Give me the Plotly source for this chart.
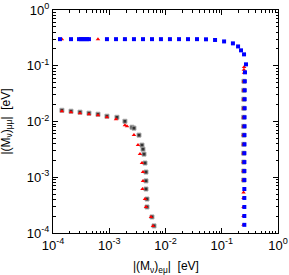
import plotly.graph_objects as go

# Upper curve (blue squares)
blue_x = [1.33e-4, 2.09e-4, 2.9e-4, 3.15e-4, 3.41e-4, 3.7e-4, 4.02e-4, 4.36e-4, 9.1e-4, 1.32e-3,
          1.9e-3, 2.75e-3, 3.98e-3, 5.75e-3, 8.3e-3, 1.2e-2, 1.74e-2, 2.51e-2, 3.63e-2, 5.25e-2,
          7.6e-2, 0.110, 0.158, 0.195, 0.22, 0.249, 0.27, 0.259,
          0.257, 0.256, 0.255, 0.255, 0.254, 0.254, 0.253, 0.253, 0.252, 0.252, 0.252, 0.252,
          0.252, 0.252, 0.252, 0.252, 0.252]
blue_y = [0.30, 0.30, 0.30, 0.30, 0.30, 0.30, 0.30, 0.30, 0.30, 0.30,
          0.30, 0.30, 0.30, 0.30, 0.30, 0.30, 0.30, 0.30, 0.30, 0.298,
          0.29, 0.273, 0.252, 0.222, 0.189, 0.16, 0.106, 0.0762,
          0.0526, 0.0363, 0.0251, 0.0173, 0.0119, 8.2e-3, 5.7e-3, 3.9e-3, 2.7e-3, 1.87e-3,
          1.29e-3, 8.9e-4, 6.15e-4, 4.25e-4, 2.93e-4, 2.02e-4, 1.4e-4]

# Upper curve (red triangles)
red_up_x = [1.44e-4, 3.2e-4, 3.4e-4, 6.3e-4, 1.9e-3, 0.25, 0.248, 0.249,
            0.248, 0.247, 0.246, 0.246, 0.245, 0.245, 0.244, 0.244, 0.244, 0.244, 0.244,
            0.244, 0.244, 0.244, 0.244, 0.244, 0.244]
red_up_y = [0.30, 0.30, 0.30, 0.30, 0.30, 0.095, 0.085, 0.075,
            0.0526, 0.0363, 0.0251, 0.0173, 0.0119, 8.2e-3, 5.7e-3, 3.9e-3, 2.7e-3, 1.87e-3,
            1.29e-3, 8.9e-4, 5.3e-4, 4.25e-4, 2.93e-4, 2.02e-4, 1.4e-4]

# Lower curve (red triangles)
red_lo_x = [1.44e-4, 2.09e-4, 3.02e-4, 4.36e-4, 6.31e-4, 9.1e-4, 1.32e-3, 1.9e-3, 2.07e-3,
            2.75e-3, 3.24e-3, 3.52e-3, 3.82e-3, 3.98e-3, 3.98e-3, 3.9e-3, 4.32e-3, 4.5e-3,
            5.52e-3, 6.0e-3]
red_lo_y = [0.0153, 0.0147, 0.0141, 0.0135, 0.0130, 0.0119, 0.0110, 8.6e-3, 8.2e-3,
            5.7e-3, 3.77e-3, 2.6e-3, 1.8e-3, 1.24e-3, 8.6e-4, 6.15e-4, 4.07e-4, 2.93e-4,
            1.94e-4, 1.34e-4]

# Grey squares (both curves)
grey_x = [1.44e-4, 2.09e-4, 3.02e-4, 4.36e-4, 6.31e-4, 9.1e-4, 1.37e-3, 1.9e-3, 2.54e-3,
          2.75e-3, 3.38e-3, 3.82e-3, 3.98e-3, 4.15e-3, 4.32e-3, 4.5e-3, 4.5e-3, 4.5e-3,
          4.69e-3, 4.69e-3, 5.75e-3, 6.25e-3,
          0.248, 0.247, 0.247, 0.246, 0.246, 0.246, 0.246, 0.246, 0.246, 0.246, 0.246, 0.246]
grey_y = [0.0159, 0.0153, 0.0147, 0.0141, 0.0135, 0.01245, 0.0119, 0.0101, 7.9e-3,
          7.6e-3, 5.7e-3, 3.77e-3, 3.19e-3, 2.6e-3, 1.8e-3, 1.24e-3, 8.6e-4, 6.15e-4,
          4.07e-4, 2.93e-4, 1.94e-4, 1.34e-4,
          0.0526, 0.0363, 0.0251, 0.0173, 0.0119, 8.2e-3, 5.7e-3, 3.9e-3, 2.7e-3, 1.87e-3,
          1.29e-3, 8.9e-4]

tick_vals = [1e-4, 1e-3, 1e-2, 1e-1, 1]
tick_text = ["10<sup>-4</sup>", "10<sup>-3</sup>", "10<sup>-2</sup>", "10<sup>-1</sup>", "10<sup>0</sup>"]
x_title = "|(M<sub>ν</sub>)<sub>eμ</sub>|  [eV]"
y_title = "|(M<sub>ν</sub>)<sub>μμ</sub>|  [eV]"

FONT = "Liberation Sans, Arial"

fig = go.Figure()
fig.add_trace(go.Scatter(x=grey_x, y=grey_y, mode="markers",
                         marker=dict(symbol="square", size=4, color="#333333",
                                     line=dict(color="#aaaaaa", width=1))))
fig.add_trace(go.Scatter(x=red_lo_x, y=red_lo_y, mode="markers",
                         marker=dict(symbol="triangle-up", size=4, color="#ff0000")))
fig.add_trace(go.Scatter(x=red_up_x, y=red_up_y, mode="markers",
                         marker=dict(symbol="triangle-up", size=4, color="#ff0000")))
fig.add_trace(go.Scatter(x=blue_x, y=blue_y, mode="markers",
                         marker=dict(symbol="square", size=4, color="#0000ff")))

axis_common = dict(type="log", range=[-4, 0], showline=True, linecolor="black", linewidth=1,
                   mirror="ticks", ticks="inside", ticklen=5, tickcolor="black",
                   showgrid=False, zeroline=False, automargin=False,
                   tickvals=tick_vals, ticktext=tick_text,
                   tickfont=dict(family=FONT, size=13, color="black"),
                   minor=dict(dtick="D1", ticks="inside", ticklen=2.5, tickcolor="black",
                              showgrid=False))

fig.update_layout(
    width=289, height=275,
    margin=dict(l=53, r=11, t=10, b=42),
    paper_bgcolor="white", plot_bgcolor="white",
    showlegend=False,
    xaxis=dict(**axis_common),
    yaxis=dict(**axis_common),
    annotations=[
        dict(text=x_title, xref="paper", yref="paper", x=0.5, y=0, xanchor="center",
             yanchor="middle", yshift=-34, showarrow=False,
             font=dict(family=FONT, size=12, color="black")),
        dict(text=y_title, xref="paper", yref="paper", x=0, y=0.5, xanchor="center",
             yanchor="middle", xshift=-47, textangle=-90, showarrow=False,
             font=dict(family=FONT, size=12, color="black")),
    ],
)

fig.write_html("out.html", config={"displayModeBar": False},
               post_script="document.body.style.margin='0';document.body.style.padding='0';")
